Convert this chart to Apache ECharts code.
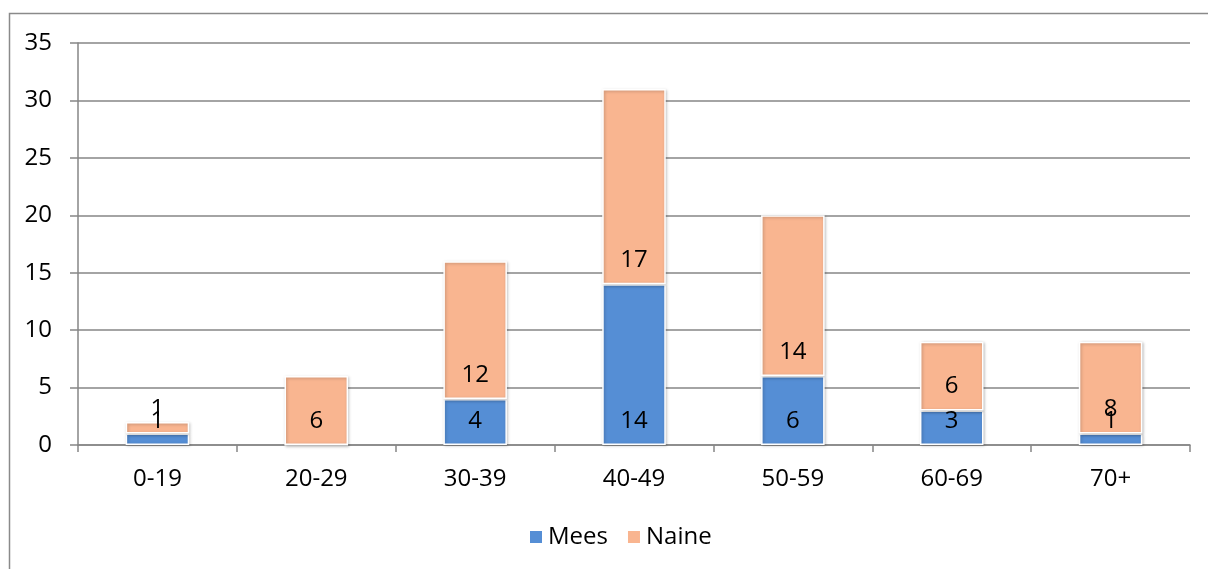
<!DOCTYPE html>
<html>
<head>
<meta charset="utf-8">
<script src="https://cdn.jsdelivr.net/npm/echarts@6/dist/echarts.min.js"></script>
<style>
html,body{margin:0;padding:0;background:#fff;}
#c{width:1208px;height:569px;}
</style>
</head>
<body>
<div id="c"></div>
<script>
var categories = ['0-19','20-29','30-39','40-49','50-59','60-69','70+'];
var mees = [1, 0, 4, 14, 6, 3, 1];
var naine = [1, 6, 12, 17, 14, 6, 8];
var seriesNames = ['Mees', 'Naine'];

var FONT = 'Open Sans';
var FS = 24;
var chart = echarts.init(document.getElementById('c'));
function lbl(p){ return p.value === 0 ? '' : String(p.value); }
var barCommon = {
  type: 'bar',
  stack: 'total',
  barWidth: '40%',
  label: {
    show: true, position: 'insideBottom', distance: 12,
    formatter: lbl, color: '#000', fontFamily: FONT, fontSize: FS
  }
};
function itemStyle(c){
  return {color: c, borderColor: '#fff', borderWidth: 1.5,
    shadowBlur: 3, shadowColor: 'rgba(0,0,0,0.25)', shadowOffsetX: 1, shadowOffsetY: 1};
}
chart.setOption({
  animation: false,
  textStyle: {fontFamily: FONT},
  graphic: [{
    type: 'rect', shape: {x: 9.5, y: 13.5, width: 1400, height: 700},
    style: {fill: 'none', stroke: '#8a8a8a', lineWidth: 1.5}, silent: true
  }],
  grid: {left: 78, right: 18, top: 43, bottom: 124},
  legend: {
    data: seriesNames, top: 520, left: 523,
    itemWidth: 14, itemHeight: 14, itemGap: 18,
    icon: 'rect',
    textStyle: {fontFamily: FONT, fontSize: FS, color: '#000'}
  },
  xAxis: {
    type: 'category', data: categories,
    axisLine: {lineStyle: {color: '#868686', width: 1.5}},
    axisTick: {show: true, length: 7, lineStyle: {color: '#868686', width: 1.5}},
    axisLabel: {color: '#000', fontFamily: FONT, fontSize: FS, margin: 22}
  },
  yAxis: {
    type: 'value', min: 0, max: 35, interval: 5,
    axisLine: {show: true, lineStyle: {color: '#868686', width: 1.5}},
    axisTick: {show: true, length: 8, lineStyle: {color: '#868686', width: 1.5}},
    splitLine: {lineStyle: {color: '#868686', width: 1.5}},
    axisLabel: {color: '#000', fontFamily: FONT, fontSize: FS, margin: 26}
  },
  series: [
    Object.assign({}, barCommon, {name: seriesNames[0], data: mees, itemStyle: itemStyle('#558ED5')}),
    Object.assign({}, barCommon, {name: seriesNames[1], data: naine, itemStyle: itemStyle('#F9B590')})
  ]
});
</script>
</body>
</html>
